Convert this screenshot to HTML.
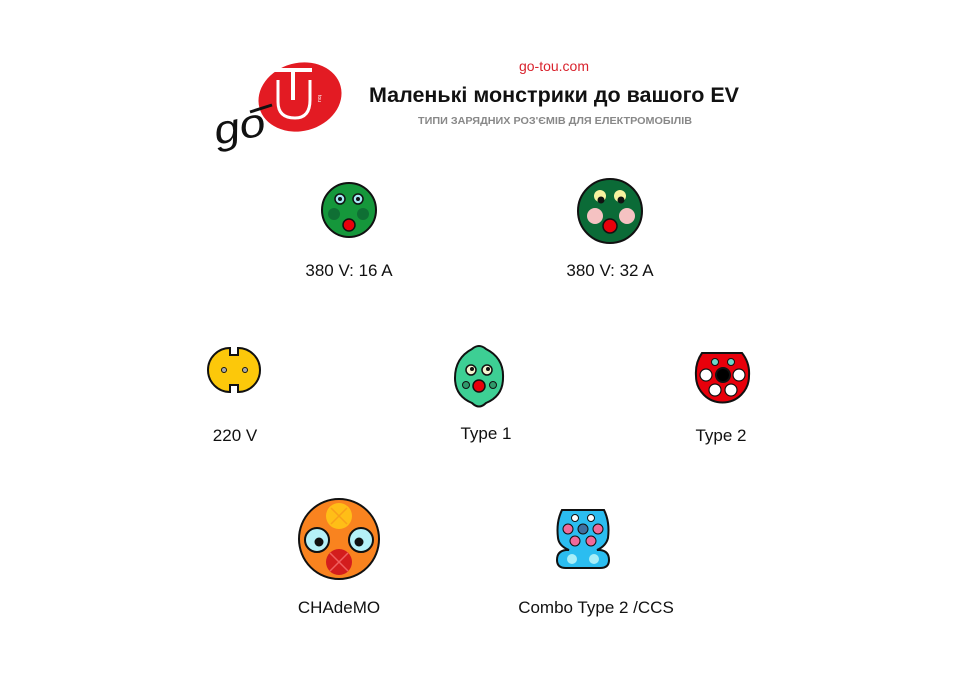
<!DOCTYPE html>
<html><head><meta charset="utf-8"><style>
html,body{margin:0;padding:0;background:#fff;}
svg{display:block;}
text{font-family:"Liberation Sans","DejaVu Sans",sans-serif;}
</style></head><body>
<svg width="960" height="684" viewBox="0 0 960 684" xmlns="http://www.w3.org/2000/svg">
<rect width="960" height="684" fill="#fff"/>
<!-- logo -->
<ellipse cx="300" cy="97" rx="42" ry="34" transform="rotate(-15 300 97)" fill="#e31b23"/>
<path d="M274 70 H312 M293 70 V100" stroke="#fff" stroke-width="4" fill="none"/>
<path d="M278 80 V102 Q278 118 295 118 Q310 118 310 100 V80" stroke="#fff" stroke-width="3" fill="none"/>
<text x="318" y="95" font-size="5" fill="#fff" transform="rotate(90 318 95)">tou</text>
<text x="212" y="140" font-size="40" font-style="italic" fill="#111" font-family="Liberation Serif" transform="rotate(-12 238 120)" textLength="52" lengthAdjust="spacingAndGlyphs">go</text>
<line x1="250" y1="112" x2="272" y2="105" stroke="#111" stroke-width="3"/>
<!-- titles -->
<text x="554" y="71" font-size="14" fill="#d9232d" text-anchor="middle">go-tou.com</text>
<text x="554" y="102" font-size="21.5" font-weight="bold" fill="#111" text-anchor="middle">Маленькі монстрики до вашого EV</text>
<text x="555" y="124" font-size="10.5" font-weight="bold" fill="#888" text-anchor="middle" textLength="274" lengthAdjust="spacingAndGlyphs">ТИПИ ЗАРЯДНИХ РОЗ'ЄМІВ ДЛЯ ЕЛЕКТРОМОБІЛІВ</text>
<g stroke="#111" stroke-width="2">
<!-- small green -->
<circle cx="349" cy="210" r="27" fill="#15973b"/>
<circle cx="340" cy="199" r="5" fill="#a6e9f5" stroke-width="1.5"/><circle cx="358" cy="199" r="5" fill="#a6e9f5" stroke-width="1.5"/>
<circle cx="340" cy="199" r="2" fill="#111" stroke="none"/><circle cx="358" cy="199" r="2" fill="#111" stroke="none"/>
<circle cx="334" cy="214" r="6" fill="#0f6f34" stroke="none"/><circle cx="363" cy="214" r="6" fill="#0f6f34" stroke="none"/>
<circle cx="349" cy="225" r="6" fill="#e8000b" stroke-width="1.5"/>
<!-- big green -->
<circle cx="610" cy="211" r="32" fill="#0b6b37"/>
<circle cx="600" cy="196" r="6" fill="#f7f2a0" stroke="none"/><circle cx="620" cy="196" r="6" fill="#f7f2a0" stroke="none"/>
<circle cx="601" cy="200" r="3.5" fill="#111" stroke="none"/><circle cx="621" cy="200" r="3.5" fill="#111" stroke="none"/>
<circle cx="595" cy="216" r="8" fill="#f5c2c2" stroke="none"/><circle cx="627" cy="216" r="8" fill="#f5c2c2" stroke="none"/>
<circle cx="610" cy="226" r="7" fill="#e8000b" stroke-width="1.5"/>
<!-- yellow 220 -->
<path d="M230 348 A22 22 0 0 0 230 392 V385 H238 V392 A22 22 0 0 0 238 348 V355 H230 Z" fill="#fcc80a"/>
<circle cx="224" cy="370" r="2.5" fill="#aaa" stroke-width="1"/><circle cx="245" cy="370" r="2.5" fill="#aaa" stroke-width="1"/>
<!-- type1 -->
<path d="M472 349 Q479 343 486 349 Q504 358 503 378 Q503 396 486 403 Q479 410 472 403 Q455 396 455 378 Q455 358 472 349 Z" fill="#3dcf94"/>
<circle cx="471" cy="370" r="5" fill="#f5f5d0" stroke-width="1.5"/><circle cx="487" cy="370" r="5" fill="#f5f5d0" stroke-width="1.5"/>
<circle cx="472" cy="369" r="2" fill="#111" stroke="none"/><circle cx="488" cy="369" r="2" fill="#111" stroke="none"/>
<circle cx="466" cy="385" r="3.5" fill="#2f9a6b" stroke-width="1"/><circle cx="493" cy="385" r="3.5" fill="#2f9a6b" stroke-width="1"/>
<circle cx="479" cy="386" r="6" fill="#e8000b" stroke-width="1.5"/>
<!-- type2 -->
<path d="M702 353 H742 Q750 363 749 376 A26.5 26.5 0 0 1 696 376 Q695 363 702 353 Z" fill="#e8000b"/>
<circle cx="715" cy="362" r="3.5" fill="#6fd8c8" stroke-width="1"/><circle cx="731" cy="362" r="3.5" fill="#6fd8c8" stroke-width="1"/>
<circle cx="723" cy="375" r="7" fill="#000"/>
<circle cx="706" cy="375" r="6" fill="#fff" stroke-width="1.2"/><circle cx="739" cy="375" r="6" fill="#fff" stroke-width="1.2"/>
<circle cx="715" cy="390" r="6" fill="#fff" stroke-width="1.2"/><circle cx="731" cy="390" r="6" fill="#fff" stroke-width="1.2"/>
<!-- CHAdeMO -->
<circle cx="339" cy="539" r="40" fill="#f9831f"/>
<circle cx="339" cy="516" r="13" fill="#ffbe17" stroke="none"/>
<path d="M331 508 L347 524 M347 508 L331 524" stroke="#f9a01a" stroke-width="1.5"/>
<circle cx="339" cy="562" r="13" fill="#d31d1d" stroke="none"/>
<path d="M330 553 L348 571 M348 553 L330 571" stroke="#f06060" stroke-width="1.5"/>
<circle cx="317" cy="540" r="12" fill="#b5f1f8"/><circle cx="361" cy="540" r="12" fill="#b5f1f8"/>
<circle cx="319" cy="542" r="4.5" fill="#111" stroke="none"/><circle cx="359" cy="542" r="4.5" fill="#111" stroke="none"/>
<!-- CCS -->
<path d="M562 510 H604 Q610 522 608 538 Q606 546 597 550 H600 Q609 551 609 560 Q609 568 600 568 H566 Q557 568 557 560 Q557 551 566 550 H569 Q559 546 558 538 Q556 522 562 510 Z" fill="#2bbdf0"/>
<circle cx="575" cy="518" r="3.5" fill="#fff" stroke-width="1"/><circle cx="591" cy="518" r="3.5" fill="#fff" stroke-width="1"/>
<circle cx="583" cy="529" r="5" fill="#3f6fa0" stroke-width="1"/>
<circle cx="568" cy="529" r="5" fill="#f06a9a" stroke-width="1"/><circle cx="598" cy="529" r="5" fill="#f06a9a" stroke-width="1"/>
<circle cx="575" cy="541" r="5" fill="#f06a9a" stroke-width="1"/><circle cx="591" cy="541" r="5" fill="#f06a9a" stroke-width="1"/>
<circle cx="572" cy="559" r="5" fill="#a8eef8" stroke="none"/><circle cx="594" cy="559" r="5" fill="#a8eef8" stroke="none"/>
</g>
<g font-size="17" fill="#111" text-anchor="middle">
<text x="349" y="276">380 V: 16 A</text>
<text x="610" y="276">380 V: 32 A</text>
<text x="235" y="441">220 V</text>
<text x="486" y="439">Type 1</text>
<text x="721" y="441">Type 2</text>
<text x="339" y="613">CHAdeMO</text>
<text x="596" y="613">Combo Type 2 /CCS</text>
</g>
</svg>
</body></html>
